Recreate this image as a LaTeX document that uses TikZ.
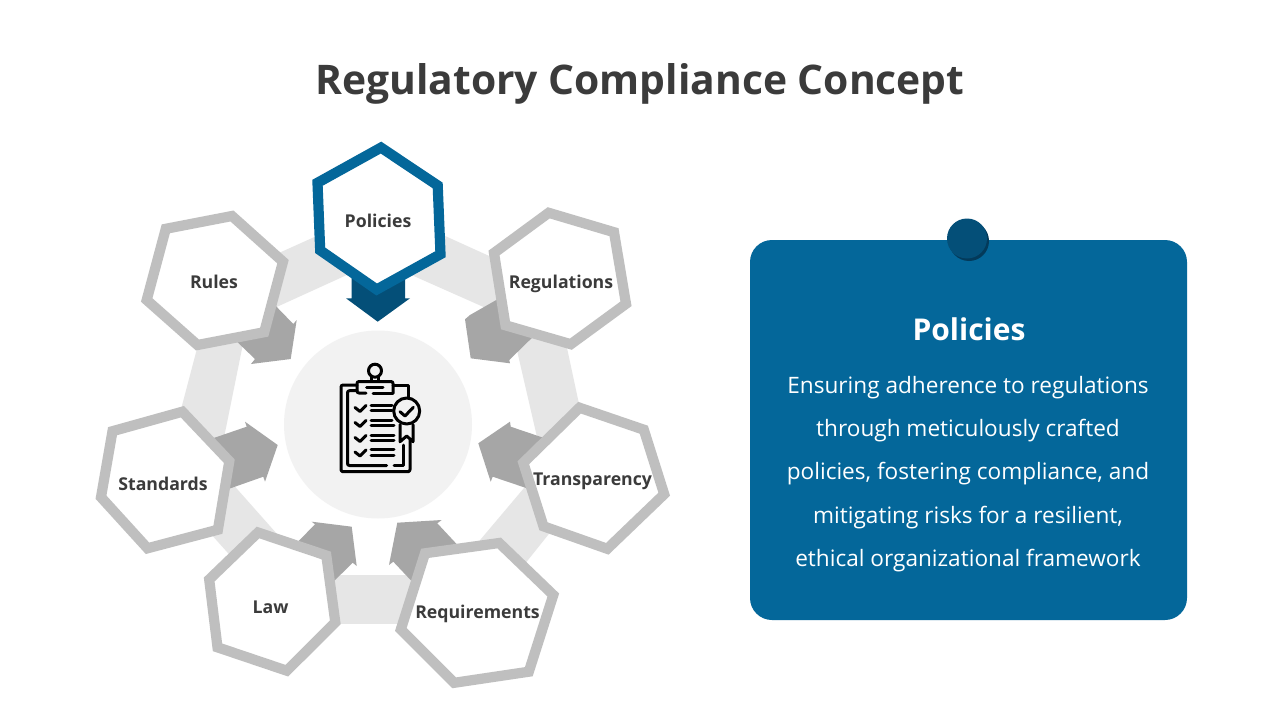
\documentclass[tikz,border=0pt]{standalone}
\usepackage{fontspec}
\setmainfont{Open Sans}
\definecolor{ink}{HTML}{3B3B3B}
\definecolor{blueA}{HTML}{04679A}
\definecolor{blueB}{HTML}{044F78}
\definecolor{blueC}{HTML}{033A5A}
\definecolor{bandc}{HTML}{E6E6E6}
\definecolor{arrowc}{HTML}{A6A6A6}
\definecolor{hexc}{HTML}{BFBFBF}
\definecolor{discc}{HTML}{F2F2F2}
\tikzset{
  bandpart/.style={fill=bandc,draw=none},
  arrowpart/.style={fill=arrowc,draw=none},
  hexg/.style={draw=hexc,fill=white,line width=10.2pt,line join=miter},
  hexb/.style={draw=blueA,fill=white,line width=10.2pt,line join=miter},
  lab/.style={text=ink,font=\fontsize{17.7}{20}\selectfont\bfseries,inner sep=0pt},
  ico/.style={draw=black,line width=3pt,line cap=round,line join=round,fill=none},
  icofine/.style={draw=black,line width=2.6pt,line cap=butt,fill=none}
}
\begin{document}
\begin{tikzpicture}[x=1pt,y=-1pt]
\useasboundingbox (0,0) rectangle (1280,720);
\fill[white] (0,0) rectangle (1280,720);
\node[text=ink,font=\fontsize{40.8}{48}\selectfont\bfseries,inner sep=0pt] (title) at (640,84) {Regulatory Compliance Concept};
% ring
\fill[bandpart] (420,224.6) -- (520,270) -- (510,318.7) -- (395,267.7) -- cycle;
\fill[bandpart] (510,320) -- (561,320) -- (582,418) -- (540,450) -- cycle;
\fill[bandpart] (535,475) -- (560,520) -- (520,570) -- (470,552) -- cycle;
\fill[bandpart] (330,575) -- (420,575) -- (420,624) -- (330,624) -- cycle;
\fill[bandpart] (222,472) -- (285,543) -- (245,572) -- (195,516.3) -- cycle;
\fill[bandpart] (200.6,335) -- (245.8,330) -- (222.5,445) -- (178.2,420) -- cycle;
\fill[bandpart] (270,257) -- (330,230) -- (360,269) -- (270,310) -- cycle;
% arrows
\fill[arrowpart] (505,295) -- (470,315) -- (465,319.3) -- (470.7,358.3) -- (510,363.3) -- (509.3,360) -- (540,330) -- cycle;
\fill[arrowpart] (550,440) -- (510.7,426.7) -- (510,421.7) -- (478.3,443.3) -- (490.7,481.7) -- (492.7,476.7) -- (535,491) -- cycle;
\fill[arrowpart] (465,553) -- (437.3,523.3) -- (441.7,520) -- (397.3,522.7) -- (389,565) -- (393.3,561.7) -- (420,590) -- cycle;
\fill[arrowpart] (285,555) -- (315,524.3) -- (311.7,521.7) -- (351.7,526.7) -- (356.7,566) -- (352.7,562.7) -- (325,590) -- cycle;
\fill[arrowpart] (205,441) -- (246.7,426.7) -- (245,421.7) -- (277.7,445) -- (265,481.7) -- (263.3,476.7) -- (220,492) -- cycle;
\fill[arrowpart] (270,300) -- (293.3,324) -- (296.7,320) -- (290.7,359) -- (251,364) -- (255,359) -- (230,335) -- cycle;
\fill[blueB] (351.7,270) -- (405,270) -- (405,298.3) -- (410,298.3) -- (377.7,321.7) -- (346,298.3) -- (351.7,298.3) -- cycle;
% hexagons
\draw[hexg] (548.7,212.8) -- (614,232.2) -- (626,303.8) -- (570.8,344.2) -- (505.5,325.3) -- (494,253) -- cycle;
\draw[hexg] (579.5,407.7) -- (643.8,429.7) -- (664.2,494.2) -- (607.3,548.8) -- (543.5,526.3) -- (523.3,462.8) -- cycle;
\draw[hexg] (258,532.5) -- (326.3,555.5) -- (335.3,622.3) -- (286.8,670.7) -- (217.5,647.3) -- (209.2,579.5) -- cycle;
\draw[hexg] (499.2,543) -- (553.3,595) -- (528.8,671.7) -- (454.2,682.8) -- (400.8,629.5) -- (425,553.3) -- cycle;
\draw[hexg] (182.4,411.7) -- (229.3,461.2) -- (217.9,529.7) -- (147.5,548.3) -- (101,497.2) -- (112.5,431.2) -- cycle;
\draw[hexg] (232,216) -- (283,261.7) -- (264.2,332.2) -- (197.5,345) -- (146.7,300) -- (165.8,228.8) -- cycle;
\draw[hexb] (381,147.6) -- (437.7,185.5) -- (440.5,254.2) -- (376.7,289.5) -- (320.2,250.3) -- (317.5,182.8) -- cycle;
% labels
\node[lab] (policies) at (378,221) {Policies};
\node[lab] (regulations) at (561,284) {Regulations};
\node[lab] (rules) at (214,282) {Rules};
\node[lab] (standards) at (163,483.5) {Standards};
\node[lab] (law) at (270.5,607) {Law};
\node[lab] (requirements) at (477.5,614) {Requirements};
\node[lab] (transparency) at (592.5,481) {Transparency};
% centre disc and icon
\fill[discc] (378,424.5) circle (94);
\draw[ico] (375,370.7) circle (6.5);
\draw[icofine] (371.5,377) -- (371.5,381.5) (378.5,377) -- (378.5,381.5);
\draw[ico] (393,393) -- (393,384.5) [rounded corners=2pt] -- (393,381.5) -- (357,381.5) -- (357,393) -- (366,393);
\draw[ico] (373,393) -- (393,393);
\draw[ico] (366.7,387.7) -- (383,387.7);
\draw[ico,rounded corners=2pt] (357,385) -- (341,385) -- (341,471.7) -- (410,471.7) -- (410,440);
\draw[ico] (393,385) -- (408,385) -- (408,397);
\draw[ico,rounded corners=2pt] (357,390.7) -- (347.5,390.7) -- (347.5,465.5) -- (386.7,465.5);
\draw[ico] (394,465.5) -- (403,465.5) -- (403,445);
\draw[ico] (355,407.5) -- (360,411.5) -- (366,405.5);
\draw[ico] (355,422.5) -- (360,426.5) -- (366,420.5);
\draw[ico] (355,437.5) -- (360,441.5) -- (366,435.5);
\draw[ico] (355,452) -- (360,456) -- (366,450);
\draw[ico] (371,405) -- (392,405) (371,410) -- (392,410);
\draw[ico] (371,420) -- (392,420) (371,425) -- (394,425);
\draw[ico] (371,435) -- (394,435) (371,440) -- (394,440);
\draw[ico] (371,449.5) -- (394,449.5) (371,455) -- (394,455);
\fill[discc] (406.7,411) circle (13);
\draw[ico] (406.7,411) circle (13);
\draw[ico] (400,411.7) -- (405,416) -- (413.3,407.3);
\draw[ico] (400,424.5) -- (400,441.7) -- (406.7,436) -- (413,441.7) -- (413,424.5);
% panel
\fill[blueA,rounded corners=22pt] (750,240) rectangle (1187,620);
\fill[blueC] (969,241) circle (20);
\fill[blueB] (967,238.5) circle (20);
\node[text=white,font=\fontsize{30}{34}\selectfont\bfseries,inner sep=0pt] (ptitle) at (969,329.5) {Policies};
\node[text=white,align=center,font=\fontsize{22.6}{43.2}\selectfont,inner sep=0pt] (pbody) at (968,474) {Ensuring adherence to regulations\\through meticulously crafted\\policies, fostering compliance, and\\mitigating risks for a resilient,\\ethical organizational framework};
\end{tikzpicture}
\end{document}
